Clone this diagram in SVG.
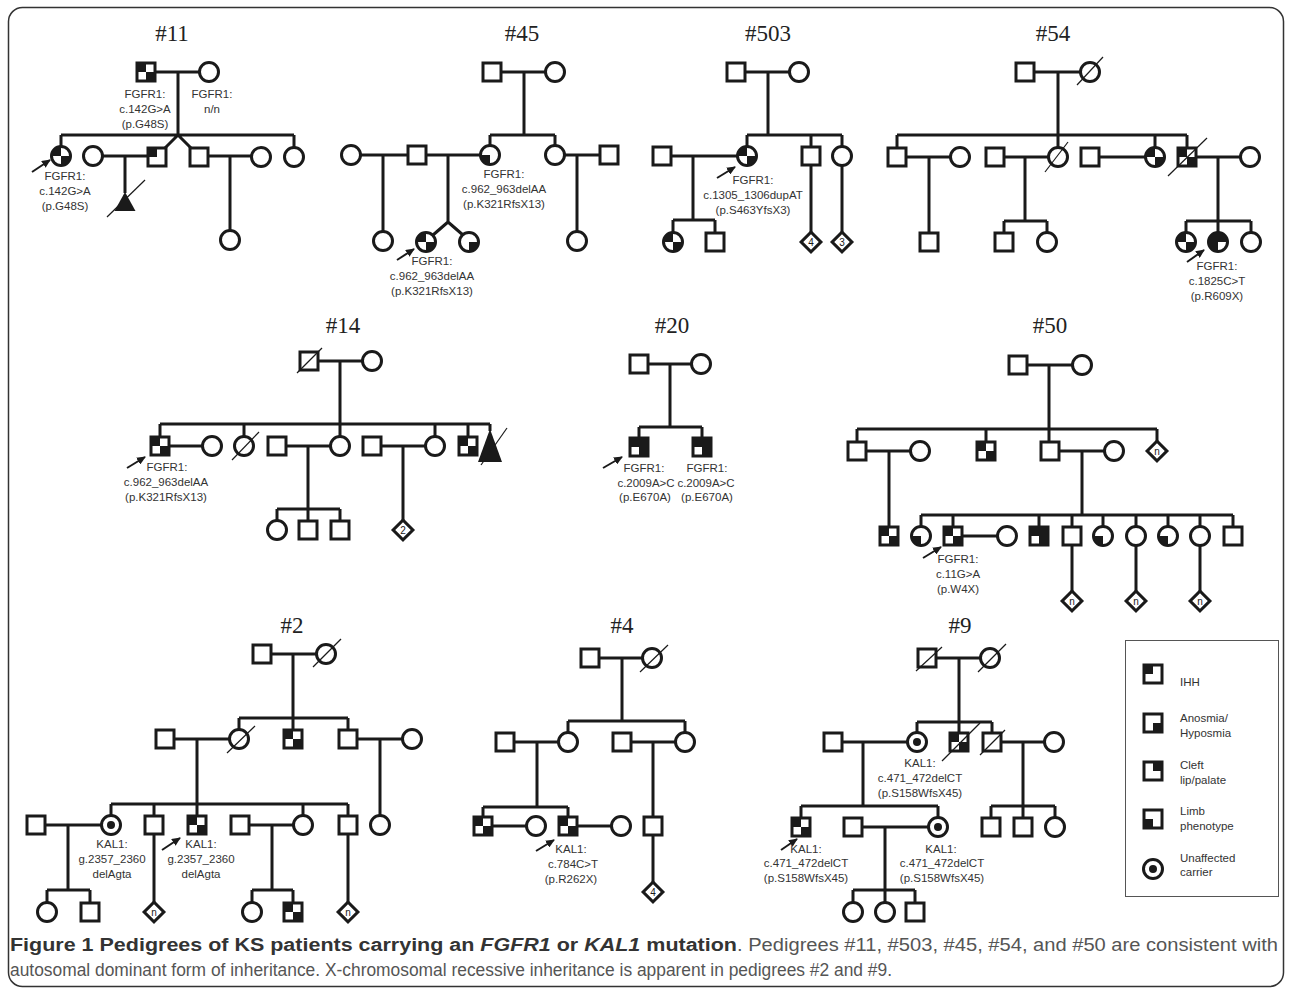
<svg xmlns="http://www.w3.org/2000/svg" xmlns:xlink="http://www.w3.org/1999/xlink" width="1292" height="994" viewBox="0 0 1292 994">
<style>
.ln{stroke:#1a1a1a;stroke-width:3;fill:none}
.sl{stroke:#1a1a1a;stroke-width:1.2;fill:none}
.ar{stroke:#1a1a1a;stroke-width:2;fill:none}
.lb{font-family:"Liberation Sans",Arial,sans-serif;font-size:11.5px;fill:#333;text-anchor:middle}
.tt{font-family:"Liberation Serif","Times New Roman",serif;font-size:23px;fill:#222;text-anchor:middle}
.dn{font-family:"Liberation Sans",Arial,sans-serif;font-size:10px;fill:#1a1a1a;text-anchor:middle}
.lg{font-family:"Liberation Sans",Arial,sans-serif;font-size:11.5px;fill:#333}
.cap{font-family:"Liberation Sans Narrow","Liberation Sans",Arial,sans-serif;font-size:17.5px;fill:#555}
.b{font-weight:bold;fill:#333}
.bi{font-weight:bold;font-style:italic;fill:#333}
</style>
<defs>
<rect id="S" x="-9" y="-9" width="18" height="18" fill="#fff" stroke="#1a1a1a" stroke-width="3"/>
<circle id="C" r="9.5" fill="#fff" stroke="#1a1a1a" stroke-width="3"/>
<rect id="D" x="-7" y="-7" width="14" height="14" transform="rotate(45)" fill="#fff" stroke="#1a1a1a" stroke-width="3"/>
<rect id="sTL" x="-9" y="-9" width="9" height="9" fill="#1a1a1a"/>
<rect id="sTR" x="0" y="-9" width="9" height="9" fill="#1a1a1a"/>
<rect id="sBL" x="-9" y="0" width="9" height="9" fill="#1a1a1a"/>
<rect id="sBR" x="0" y="0" width="9" height="9" fill="#1a1a1a"/>
<path id="cTL" d="M0,0H-9.5A9.5,9.5 0 0 1 0,-9.5Z" fill="#1a1a1a"/>
<path id="cTR" d="M0,0V-9.5A9.5,9.5 0 0 1 9.5,0Z" fill="#1a1a1a"/>
<path id="cBR" d="M0,0H9.5A9.5,9.5 0 0 1 0,9.5Z" fill="#1a1a1a"/>
<path id="cBL" d="M0,0V9.5A9.5,9.5 0 0 1 -9.5,0Z" fill="#1a1a1a"/>
<circle id="dot" r="4" fill="#1a1a1a"/>
<marker id="ah" markerUnits="userSpaceOnUse" markerWidth="9" markerHeight="8" refX="8" refY="4" orient="auto"><path d="M0,0L9,4L0,8Z" fill="#1a1a1a"/></marker>
</defs>
<rect x="8.5" y="7.5" width="1275" height="979" rx="14" fill="#fff" stroke="#333" stroke-width="1.5"/>

<g id="connectors">
<path class="ln" d="M155,72H200M178,72V135M61,135H294M61,135V147M294,135V147M178,135L165,148M178,135L191,148M102,156H148M125,156V193M208,156H252M230,156V231"/>
<path class="ln" d="M501,72H546M524,72V135M490,135H555M490,135V146M555,135V146M360,155H408M383,155V232M426,155H481M448,155V222M448,222L433,235M448,222L463,235M564,155H600M577,155V232"/>
<path class="ln" d="M745,72H790M768,72V135M747,135H842M747,135V147M811,135V147M842,135V147M671,156H738M693,156V220M673,220H715M673,220V233M715,220V233M811,165V233M842,165V233"/>
<path class="ln" d="M1034,72H1081M1058,72V148M897,135H1187M897,135V148M1155,135V148M1187,135V148M906,157H951M929,157V233M1004,157H1049M1025,157V221M1004,221H1047M1004,221V233M1047,221V233M1099,157H1146M1196,157H1241M1218,157V221M1186,221H1251M1186,221V233M1218,221V233M1251,221V233"/>
<path class="ln" d="M318,361H363M340,361V437M160,424H490M160,424V437M244,424V437M435,424V437M468,424V437M490,424V431M169,446H203M286,446H331M308,446V509M277,509H340M277,509V521M308,509V521M340,509V521M381,446H426M403,446V521"/>
<path class="ln" d="M648,364H692M670,364V427M639,427H702M639,427V438M702,427V438"/>
<path class="ln" d="M1027,365H1073M1049,365V442M857,429H1157M857,429V442M986,429V442M1157,429V441M866,451H911M889,451V527M1059,451H1105M1082,451V515M921,515H1233M921,515V527M953,515V527M1039,515V527M1072,515V527M1103,515V527M1136,515V527M1168,515V527M1200,515V527M1233,515V527M962,536H998M1072,545V591M1136,546V591M1200,546V591"/>
<path class="ln" d="M271,654H317M293,654V730M239,718H348M239,718V730M348,718V730M174,739H230M197,739V816M357,739H403M380,739V816M111,804H348M111,804V816M154,804V816M303,804V816M348,804V816M45,825H102M68,825V890M47,890H90M47,890V903M90,890V903M154,834V902M249,825H294M272,825V890M252,890H293M252,890V903M293,890V903M348,834V902"/>
<path class="ln" d="M599,658H643M622,658V721M568,721H685M568,721V733M685,721V733M514,742H559M537,742V807M631,742H676M653,742V817M483,807H568M483,807V817M568,807V817M492,826H527M577,826H612M653,835V882"/>
<path class="ln" d="M936,658H981M959,658V733M917,722H992M917,722V733M992,722V733M842,742H908M863,742V806M1001,742H1045M1023,742V806M991,806H1055M991,806V818M1023,806V818M1055,806V818M801,806H938M801,806V818M938,806V818M862,827H929M885,827V890M853,890H915M853,890V903M885,890V903M915,890V903"/>
</g>

<g id="arrows">
<line class="ar" x1="32" y1="172" x2="50" y2="160" marker-end="url(#ah)"/>
<line class="ar" x1="397" y1="260" x2="414" y2="249" marker-end="url(#ah)"/>
<line class="ar" x1="717" y1="178" x2="735" y2="167" marker-end="url(#ah)"/>
<line class="ar" x1="1187" y1="262" x2="1204" y2="250" marker-end="url(#ah)"/>
<line class="ar" x1="127" y1="468" x2="145" y2="457" marker-end="url(#ah)"/>
<line class="ar" x1="603" y1="468" x2="622" y2="457" marker-end="url(#ah)"/>
<line class="ar" x1="923" y1="558" x2="941" y2="547" marker-end="url(#ah)"/>
<line class="ar" x1="162" y1="850" x2="180" y2="838" marker-end="url(#ah)"/>
<line class="ar" x1="536" y1="851" x2="554" y2="840" marker-end="url(#ah)"/>
<line class="ar" x1="781" y1="850" x2="797" y2="839" marker-end="url(#ah)"/>
</g>

<!-- #11 -->
<g id="ped11">
<text class="tt" x="172" y="41">#11</text>
<g id="n11_f" transform="translate(146,72)"><use href="#S"/><use href="#sTL"/><use href="#sBR"/></g>
<g id="n11_m" transform="translate(209,72)"><use href="#C"/></g>
<text class="lb" x="145" y="98">FGFR1:</text><text class="lb" x="145" y="113">c.142G&gt;A</text><text class="lb" x="145" y="128">(p.G48S)</text>
<text class="lb" x="212" y="98">FGFR1:</text><text class="lb" x="212" y="113">n/n</text>
<g id="n11_p" transform="translate(61,156)"><use href="#C"/><use href="#cTL"/><use href="#cBR"/></g>
<text class="lb" x="65" y="180">FGFR1:</text><text class="lb" x="65" y="195">c.142G&gt;A</text><text class="lb" x="65" y="210">(p.G48S)</text>
<g id="n11_c1" transform="translate(93,156)"><use href="#C"/></g>
<g id="n11_s1" transform="translate(157,157)"><use href="#S"/><use href="#sTL"/></g>
<g id="n11_s2" transform="translate(199,157)"><use href="#S"/></g>
<g id="n11_c2" transform="translate(261,157)"><use href="#C"/></g>
<g id="n11_c3" transform="translate(294,157)"><use href="#C"/></g>
<g id="n11_t"><polygon points="125,192 114.5,211 135.5,211" fill="#1a1a1a"/><line class="sl" x1="107" y1="217" x2="145" y2="180"/></g>
<g id="n11_c4" transform="translate(230,240)"><use href="#C"/></g>
</g>

<!-- #45 -->
<g id="ped45">
<text class="tt" x="522" y="41">#45</text>
<g id="n45_f" transform="translate(492,72)"><use href="#S"/></g>
<g id="n45_m" transform="translate(555,72)"><use href="#C"/></g>
<g id="n45_c1" transform="translate(351,155)"><use href="#C"/></g>
<g id="n45_s1" transform="translate(417,155)"><use href="#S"/></g>
<g id="n45_a" transform="translate(490,155)"><use href="#C"/><use href="#cBL"/></g>
<text class="lb" x="504" y="178">FGFR1:</text><text class="lb" x="504" y="193">c.962_963delAA</text><text class="lb" x="504" y="208">(p.K321RfsX13)</text>
<g id="n45_c2" transform="translate(555,155)"><use href="#C"/></g>
<g id="n45_s2" transform="translate(609,155)"><use href="#S"/></g>
<g id="n45_c3" transform="translate(383,241)"><use href="#C"/></g>
<g id="n45_p" transform="translate(426,242)"><use href="#C"/><use href="#cTL"/><use href="#cBR"/></g>
<text class="lb" x="432" y="265">FGFR1:</text><text class="lb" x="432" y="280">c.962_963delAA</text><text class="lb" x="432" y="295">(p.K321RfsX13)</text>
<g id="n45_t2" transform="translate(469,242)"><use href="#C"/><use href="#cBR"/></g>
<g id="n45_c4" transform="translate(577,241)"><use href="#C"/></g>
</g>

<!-- #503 -->
<g id="ped503">
<text class="tt" x="768" y="41">#503</text>
<g id="n503_f" transform="translate(736,72)"><use href="#S"/></g>
<g id="n503_m" transform="translate(799,72)"><use href="#C"/></g>
<g id="n503_s1" transform="translate(662,156)"><use href="#S"/></g>
<g id="n503_p" transform="translate(747,156)"><use href="#C"/><use href="#cTL"/><use href="#cBR"/></g>
<text class="lb" x="753" y="184">FGFR1:</text><text class="lb" x="753" y="199">c.1305_1306dupAT</text><text class="lb" x="753" y="214">(p.S463YfsX3)</text>
<g id="n503_s2" transform="translate(811,156)"><use href="#S"/></g>
<g id="n503_c2" transform="translate(842,156)"><use href="#C"/></g>
<g id="n503_k1" transform="translate(673,242)"><use href="#C"/><use href="#cTL"/><use href="#cBR"/></g>
<g id="n503_k2" transform="translate(715,242)"><use href="#S"/></g>
<g id="n503_d1" transform="translate(811,242)"><use href="#D"/><text class="dn" y="3.5">4</text></g>
<g id="n503_d2" transform="translate(842,242)"><use href="#D"/><text class="dn" y="3.5">3</text></g>
</g>

<!-- #54 -->
<g id="ped54">
<text class="tt" x="1053" y="41">#54</text>
<g id="n54_f" transform="translate(1025,72)"><use href="#S"/></g>
<g id="n54_m" transform="translate(1090,72)"><use href="#C"/><line class="sl" x1="-13" y1="13" x2="13" y2="-15"/></g>
<g id="n54_s1" transform="translate(897,157)"><use href="#S"/></g>
<g id="n54_c1" transform="translate(960,157)"><use href="#C"/></g>
<g id="n54_s2" transform="translate(995,157)"><use href="#S"/></g>
<g id="n54_c2" transform="translate(1058,157)"><use href="#C"/><line class="sl" x1="-13" y1="15" x2="10" y2="-15"/></g>
<g id="n54_s3" transform="translate(1090,157)"><use href="#S"/></g>
<g id="n54_c3" transform="translate(1155,157)"><use href="#C"/><use href="#cTL"/><use href="#cBR"/></g>
<g id="n54_s4" transform="translate(1187,157)"><use href="#S"/><use href="#sTL"/><use href="#sBR"/><line class="sl" x1="-19" y1="19" x2="20" y2="-19"/></g>
<g id="n54_c4" transform="translate(1250,157)"><use href="#C"/></g>
<g id="n54_g1" transform="translate(929,242)"><use href="#S"/></g>
<g id="n54_g2" transform="translate(1004,242)"><use href="#S"/></g>
<g id="n54_g3" transform="translate(1047,242)"><use href="#C"/></g>
<g id="n54_g4" transform="translate(1186,242)"><use href="#C"/><use href="#cTL"/><use href="#cBR"/></g>
<g id="n54_p" transform="translate(1218,242)"><use href="#C"/><use href="#cTL"/><use href="#cTR"/><use href="#cBL"/></g>
<g id="n54_g6" transform="translate(1251,242)"><use href="#C"/></g>
<text class="lb" x="1217" y="270">FGFR1:</text><text class="lb" x="1217" y="285">c.1825C&gt;T</text><text class="lb" x="1217" y="300">(p.R609X)</text>
</g>

<!-- #14 -->
<g id="ped14">
<text class="tt" x="343" y="333">#14</text>
<g id="n14_f" transform="translate(309,361)"><use href="#S"/><line class="sl" x1="-12" y1="12" x2="13" y2="-13"/></g>
<g id="n14_m" transform="translate(372,361)"><use href="#C"/></g>
<g id="n14_p" transform="translate(160,446)"><use href="#S"/><use href="#sTL"/><use href="#sBR"/></g>
<text class="lb" x="167" y="471">FGFR1:</text><text class="lb" x="166" y="486">c.962_963delAA</text><text class="lb" x="166" y="501">(p.K321RfsX13)</text>
<g id="n14_c1" transform="translate(212,446)"><use href="#C"/></g>
<g id="n14_c2" transform="translate(244,446)"><use href="#C"/><line class="sl" x1="-12" y1="14" x2="15" y2="-14"/></g>
<g id="n14_s1" transform="translate(277,446)"><use href="#S"/></g>
<g id="n14_c3" transform="translate(340,446)"><use href="#C"/></g>
<g id="n14_s2" transform="translate(372,446)"><use href="#S"/></g>
<g id="n14_c4" transform="translate(435,446)"><use href="#C"/></g>
<g id="n14_s3" transform="translate(468,446)"><use href="#S"/><use href="#sTL"/><use href="#sBR"/></g>
<g id="n14_t"><polygon points="490,429 478,462 502,462" fill="#1a1a1a"/><line class="sl" x1="481" y1="465" x2="507" y2="428"/></g>
<g id="n14_g1" transform="translate(277,530)"><use href="#C"/></g>
<g id="n14_g2" transform="translate(308,530)"><use href="#S"/></g>
<g id="n14_g3" transform="translate(340,530)"><use href="#S"/></g>
<g id="n14_d" transform="translate(403,530)"><use href="#D"/><text class="dn" y="3.5">2</text></g>
</g>

<!-- #20 -->
<g id="ped20">
<text class="tt" x="672" y="333">#20</text>
<g id="n20_f" transform="translate(639,364)"><use href="#S"/></g>
<g id="n20_m" transform="translate(701,364)"><use href="#C"/></g>
<g id="n20_p" transform="translate(639,447)"><use href="#S"/><use href="#sTL"/><use href="#sTR"/><use href="#sBR"/></g>
<g id="n20_b" transform="translate(702,447)"><use href="#S"/><use href="#sTL"/><use href="#sTR"/><use href="#sBR"/></g>
<text class="lb" x="644" y="472">FGFR1:</text><text class="lb" x="646" y="487">c.2009A&gt;C</text><text class="lb" x="645" y="501">(p.E670A)</text>
<text class="lb" x="707" y="472">FGFR1:</text><text class="lb" x="706" y="487">c.2009A&gt;C</text><text class="lb" x="707" y="501">(p.E670A)</text>
</g>

<!-- #50 -->
<g id="ped50">
<text class="tt" x="1050" y="333">#50</text>
<g id="n50_f" transform="translate(1018,365)"><use href="#S"/></g>
<g id="n50_m" transform="translate(1082,365)"><use href="#C"/></g>
<g id="n50_s1" transform="translate(857,451)"><use href="#S"/></g>
<g id="n50_c1" transform="translate(920,451)"><use href="#C"/></g>
<g id="n50_s2" transform="translate(986,451)"><use href="#S"/><use href="#sTL"/><use href="#sBR"/></g>
<g id="n50_s3" transform="translate(1050,451)"><use href="#S"/></g>
<g id="n50_c2" transform="translate(1114,451)"><use href="#C"/></g>
<g id="n50_d0" transform="translate(1157,451)"><use href="#D"/><text class="dn" y="3.5">n</text></g>
<g id="n50_k0" transform="translate(889,536)"><use href="#S"/><use href="#sTL"/><use href="#sBR"/></g>
<g id="n50_k1" transform="translate(921,536)"><use href="#C"/><use href="#cBL"/></g>
<g id="n50_p" transform="translate(953,536)"><use href="#S"/><use href="#sTL"/><use href="#sBR"/></g>
<text class="lb" x="958" y="563">FGFR1:</text><text class="lb" x="958" y="578">c.11G&gt;A</text><text class="lb" x="958" y="593">(p.W4X)</text>
<g id="n50_k3" transform="translate(1007,536)"><use href="#C"/></g>
<g id="n50_k4" transform="translate(1039,536)"><use href="#S"/><use href="#sTL"/><use href="#sTR"/><use href="#sBR"/></g>
<g id="n50_k5" transform="translate(1072,536)"><use href="#S"/></g>
<g id="n50_k6" transform="translate(1103,536)"><use href="#C"/><use href="#cBL"/></g>
<g id="n50_k7" transform="translate(1136,536)"><use href="#C"/></g>
<g id="n50_k8" transform="translate(1168,536)"><use href="#C"/><use href="#cBL"/></g>
<g id="n50_k9" transform="translate(1200,536)"><use href="#C"/></g>
<g id="n50_k10" transform="translate(1233,536)"><use href="#S"/></g>
<g id="n50_d1" transform="translate(1072,601)"><use href="#D"/><text class="dn" y="3.5">n</text></g>
<g id="n50_d2" transform="translate(1136,601)"><use href="#D"/><text class="dn" y="3.5">n</text></g>
<g id="n50_d3" transform="translate(1200,601)"><use href="#D"/><text class="dn" y="3.5">n</text></g>
</g>

<!-- #2 -->
<g id="ped2">
<text class="tt" x="292" y="633">#2</text>
<g id="n2_f" transform="translate(262,654)"><use href="#S"/></g>
<g id="n2_m" transform="translate(326,654)"><use href="#C"/><line class="sl" x1="-13" y1="13" x2="15" y2="-15"/></g>
<g id="n2_s1" transform="translate(165,739)"><use href="#S"/></g>
<g id="n2_c1" transform="translate(239,739)"><use href="#C"/><line class="sl" x1="-12" y1="14" x2="16" y2="-13"/></g>
<g id="n2_s2" transform="translate(293,739)"><use href="#S"/><use href="#sTL"/><use href="#sBR"/></g>
<g id="n2_s3" transform="translate(348,739)"><use href="#S"/></g>
<g id="n2_c2" transform="translate(412,739)"><use href="#C"/></g>
<g id="n2_g1" transform="translate(36,825)"><use href="#S"/></g>
<g id="n2_g2" transform="translate(111,825)"><use href="#C"/><use href="#dot"/></g>
<text class="lb" x="112" y="848">KAL1:</text><text class="lb" x="112" y="863">g.2357_2360</text><text class="lb" x="112" y="878">delAgta</text>
<g id="n2_g3" transform="translate(154,825)"><use href="#S"/></g>
<g id="n2_p" transform="translate(197,825)"><use href="#S"/><use href="#sTL"/><use href="#sBR"/></g>
<text class="lb" x="201" y="848">KAL1:</text><text class="lb" x="201" y="863">g.2357_2360</text><text class="lb" x="201" y="878">delAgta</text>
<g id="n2_g5" transform="translate(240,825)"><use href="#S"/></g>
<g id="n2_g6" transform="translate(303,825)"><use href="#C"/></g>
<g id="n2_g7" transform="translate(348,825)"><use href="#S"/></g>
<g id="n2_g8" transform="translate(380,825)"><use href="#C"/></g>
<g id="n2_h1" transform="translate(47,912)"><use href="#C"/></g>
<g id="n2_h2" transform="translate(90,912)"><use href="#S"/></g>
<g id="n2_h3" transform="translate(154,912)"><use href="#D"/><text class="dn" y="3.5">n</text></g>
<g id="n2_h4" transform="translate(252,912)"><use href="#C"/></g>
<g id="n2_h5" transform="translate(293,912)"><use href="#S"/><use href="#sTL"/><use href="#sBR"/></g>
<g id="n2_h6" transform="translate(348,912)"><use href="#D"/><text class="dn" y="3.5">n</text></g>
</g>

<!-- #4 -->
<g id="ped4">
<text class="tt" x="622" y="633">#4</text>
<g id="n4_f" transform="translate(590,658)"><use href="#S"/></g>
<g id="n4_m" transform="translate(652,658)"><use href="#C"/><line class="sl" x1="-12" y1="14" x2="16" y2="-13"/></g>
<g id="n4_s1" transform="translate(505,742)"><use href="#S"/></g>
<g id="n4_c1" transform="translate(568,742)"><use href="#C"/></g>
<g id="n4_s2" transform="translate(622,742)"><use href="#S"/></g>
<g id="n4_c2" transform="translate(685,742)"><use href="#C"/></g>
<g id="n4_g1" transform="translate(483,826)"><use href="#S"/><use href="#sTL"/><use href="#sBR"/></g>
<g id="n4_g2" transform="translate(536,826)"><use href="#C"/></g>
<g id="n4_p" transform="translate(568,826)"><use href="#S"/><use href="#sTL"/><use href="#sBR"/></g>
<text class="lb" x="571" y="853">KAL1:</text><text class="lb" x="573" y="868">c.784C&gt;T</text><text class="lb" x="571" y="883">(p.R262X)</text>
<g id="n4_g4" transform="translate(621,826)"><use href="#C"/></g>
<g id="n4_g5" transform="translate(653,826)"><use href="#S"/></g>
<g id="n4_d" transform="translate(653,892)"><use href="#D"/><text class="dn" y="3.5">4</text></g>
</g>

<!-- #9 -->
<g id="ped9">
<text class="tt" x="960" y="633">#9</text>
<g id="n9_f" transform="translate(927,658)"><use href="#S"/><line class="sl" x1="-11" y1="13" x2="15" y2="-11"/></g>
<g id="n9_m" transform="translate(990,658)"><use href="#C"/><line class="sl" x1="-12" y1="14" x2="16" y2="-14"/></g>
<g id="n9_s1" transform="translate(833,742)"><use href="#S"/></g>
<g id="n9_c1" transform="translate(917,742)"><use href="#C"/><use href="#dot"/></g>
<text class="lb" x="920" y="767">KAL1:</text><text class="lb" x="920" y="782">c.471_472delCT</text><text class="lb" x="920" y="797">(p.S158WfsX45)</text>
<g id="n9_s2" transform="translate(959,742)"><use href="#S"/><use href="#sTL"/><use href="#sBR"/><line class="sl" x1="-17" y1="19" x2="21" y2="-19"/></g>
<g id="n9_s3" transform="translate(992,742)"><use href="#S"/><line class="sl" x1="-12" y1="13" x2="13" y2="-12"/></g>
<g id="n9_c2" transform="translate(1054,742)"><use href="#C"/></g>
<g id="n9_p" transform="translate(801,827)"><use href="#S"/><use href="#sTL"/><use href="#sBR"/></g>
<text class="lb" x="806" y="853">KAL1:</text><text class="lb" x="806" y="867">c.471_472delCT</text><text class="lb" x="806" y="882">(p.S158WfsX45)</text>
<g id="n9_g2" transform="translate(853,827)"><use href="#S"/></g>
<g id="n9_g3" transform="translate(938,827)"><use href="#C"/><use href="#dot"/></g>
<text class="lb" x="941" y="853">KAL1:</text><text class="lb" x="942" y="867">c.471_472delCT</text><text class="lb" x="942" y="882">(p.S158WfsX45)</text>
<g id="n9_g4" transform="translate(991,827)"><use href="#S"/></g>
<g id="n9_g5" transform="translate(1023,827)"><use href="#S"/></g>
<g id="n9_g6" transform="translate(1055,827)"><use href="#C"/></g>
<g id="n9_h1" transform="translate(853,912)"><use href="#C"/></g>
<g id="n9_h2" transform="translate(885,912)"><use href="#C"/></g>
<g id="n9_h3" transform="translate(915,912)"><use href="#S"/></g>
</g>

<!-- legend -->
<g id="legend">
<rect x="1125.5" y="640.5" width="153" height="256" fill="#fff" stroke="#555" stroke-width="1"/>
<g transform="translate(1153,674)"><use href="#S"/><use href="#sTL"/></g>
<text class="lg" x="1180" y="686">IHH</text>
<g transform="translate(1153,723)"><use href="#S"/><use href="#sBR"/></g>
<text class="lg" x="1180" y="722">Anosmia/</text><text class="lg" x="1180" y="737">Hyposmia</text>
<g transform="translate(1153,771)"><use href="#S"/><use href="#sTR"/></g>
<text class="lg" x="1180" y="769">Cleft</text><text class="lg" x="1180" y="784">lip/palate</text>
<g transform="translate(1153,819)"><use href="#S"/><use href="#sBL"/></g>
<text class="lg" x="1180" y="815">Limb</text><text class="lg" x="1180" y="830">phenotype</text>
<g transform="translate(1153,869)"><use href="#C"/><use href="#dot"/></g>
<text class="lg" x="1180" y="862">Unaffected</text><text class="lg" x="1180" y="876">carrier</text>
</g>

<!-- caption -->
<g id="caption">
<text class="cap" x="10" y="951" textLength="727" lengthAdjust="spacingAndGlyphs"><tspan class="b">Figure 1 Pedigrees of KS patients carrying an </tspan><tspan class="bi">FGFR1</tspan><tspan class="b"> or </tspan><tspan class="bi">KAL1</tspan><tspan class="b"> mutation</tspan></text>
<text class="cap" x="737" y="951" textLength="541" lengthAdjust="spacingAndGlyphs">. Pedigrees #11, #503, #45, #54, and #50 are consistent with</text>
<text class="cap" x="10" y="976" textLength="882" lengthAdjust="spacingAndGlyphs">autosomal dominant form of inheritance. X-chromosomal recessive inheritance is apparent in pedigrees #2 and #9.</text>
</g>
</svg>
